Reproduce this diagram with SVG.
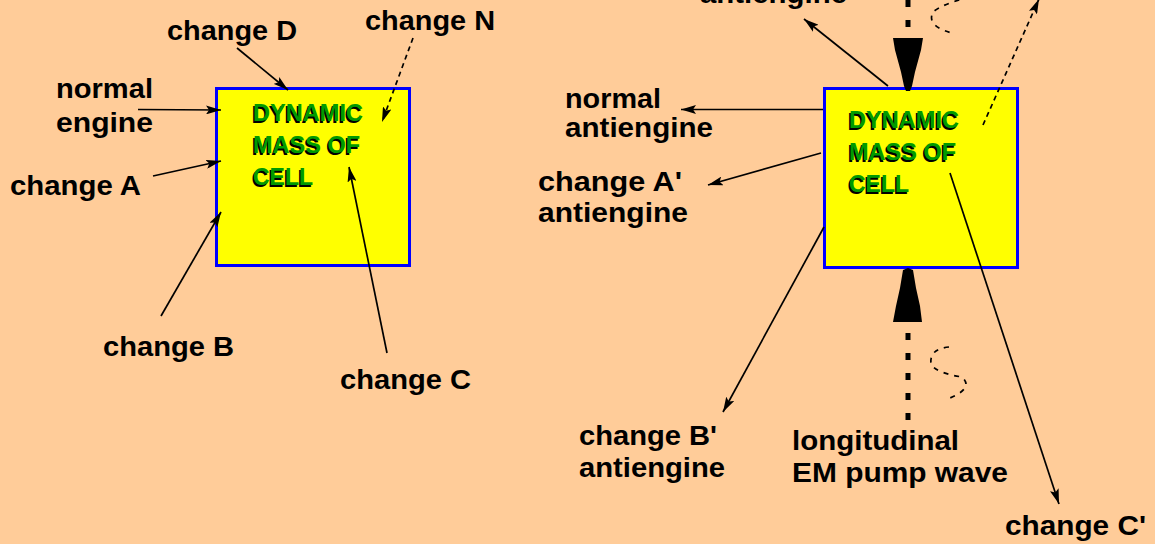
<svg xmlns="http://www.w3.org/2000/svg" width="1155" height="544" viewBox="0 0 1155 544">
<style>
.lbl{font-family:"Liberation Sans",Arial,sans-serif;font-weight:bold;font-size:28px;fill:#000}
.box{fill:#FFFF00;stroke:#0000FF;stroke-width:3}
.bt{font-family:"Liberation Sans",Arial,sans-serif;font-weight:bold;font-size:23px}
.sh{fill:#000}
.gr{fill:#009A00}
.ln{stroke:#000;stroke-width:1.7;fill:none}
.dl{stroke:#000;stroke-width:1.7;fill:none;stroke-dasharray:5 4}
.thick{stroke:#000;stroke-width:5;fill:none;stroke-dasharray:7 13}
.sq{stroke:#000;stroke-width:1.7;fill:none;stroke-dasharray:5 6}
</style>
<defs>
<marker id="ah" viewBox="0 0 15 9" refX="15" refY="4.5" markerWidth="15" markerHeight="9" markerUnits="userSpaceOnUse" orient="auto">
<path d="M0,0 L15,4.5 L0,9 L3,4.5 z" fill="#000"/>
</marker>
</defs>
<rect width="1155" height="544" fill="#FFCC99"/>

<g id="cell-left">
<rect class="box" x="216.5" y="88.5" width="193" height="177"/>
<g class="bt">
<text class="sh" x="251.5" y="122.5" textLength="110" lengthAdjust="spacingAndGlyphs">DYNAMIC</text>
<text class="gr" x="253" y="121" textLength="110" lengthAdjust="spacingAndGlyphs">DYNAMIC</text>
<text class="sh" x="251.5" y="154.5" textLength="107" lengthAdjust="spacingAndGlyphs">MASS OF</text>
<text class="gr" x="253" y="153" textLength="107" lengthAdjust="spacingAndGlyphs">MASS OF</text>
<text class="sh" x="251.5" y="186.5" textLength="60" lengthAdjust="spacingAndGlyphs">CELL</text>
<text class="gr" x="253" y="185" textLength="60" lengthAdjust="spacingAndGlyphs">CELL</text>
</g>
</g>

<g id="cell-right">
<rect class="box" x="824.5" y="88.5" width="193" height="179"/>
<g class="bt">
<text class="sh" x="847.5" y="129.5" textLength="110" lengthAdjust="spacingAndGlyphs">DYNAMIC</text>
<text class="gr" x="849" y="128" textLength="110" lengthAdjust="spacingAndGlyphs">DYNAMIC</text>
<text class="sh" x="847.5" y="161.5" textLength="107" lengthAdjust="spacingAndGlyphs">MASS OF</text>
<text class="gr" x="849" y="160" textLength="107" lengthAdjust="spacingAndGlyphs">MASS OF</text>
<text class="sh" x="847.5" y="193.5" textLength="60" lengthAdjust="spacingAndGlyphs">CELL</text>
<text class="gr" x="849" y="192" textLength="60" lengthAdjust="spacingAndGlyphs">CELL</text>
</g>
</g>

<g id="label-change-d"><text class="lbl" x="167" y="40" textLength="130" lengthAdjust="spacingAndGlyphs">change D</text></g>
<g id="label-change-n"><text class="lbl" x="365" y="30" textLength="130" lengthAdjust="spacingAndGlyphs">change N</text></g>
<g id="label-normal-engine"><text class="lbl" x="56" y="98" textLength="97" lengthAdjust="spacingAndGlyphs">normal</text><text class="lbl" x="56" y="132" textLength="97" lengthAdjust="spacingAndGlyphs">engine</text></g>
<g id="label-change-a"><text class="lbl" x="10" y="195" textLength="131" lengthAdjust="spacingAndGlyphs">change A</text></g>
<g id="label-change-b"><text class="lbl" x="103" y="356" textLength="131" lengthAdjust="spacingAndGlyphs">change B</text></g>
<g id="label-change-c"><text class="lbl" x="340" y="389" textLength="131" lengthAdjust="spacingAndGlyphs">change C</text></g>

<g id="label-antiengine-top"><text class="lbl" x="700" y="3" textLength="147" lengthAdjust="spacingAndGlyphs">antiengine</text></g>
<g id="label-normal-antiengine"><text class="lbl" x="565" y="108" textLength="96" lengthAdjust="spacingAndGlyphs">normal</text><text class="lbl" x="565" y="137" textLength="148" lengthAdjust="spacingAndGlyphs">antiengine</text></g>
<g id="label-change-a-prime"><text class="lbl" x="538" y="191" textLength="144" lengthAdjust="spacingAndGlyphs">change A'</text><text class="lbl" x="538" y="222" textLength="150" lengthAdjust="spacingAndGlyphs">antiengine</text></g>
<g id="label-change-b-prime"><text class="lbl" x="579" y="445" textLength="138" lengthAdjust="spacingAndGlyphs">change B'</text><text class="lbl" x="579" y="477" textLength="146" lengthAdjust="spacingAndGlyphs">antiengine</text></g>
<g id="label-pump-wave"><text class="lbl" x="792" y="450" textLength="167" lengthAdjust="spacingAndGlyphs">longitudinal</text><text class="lbl" x="792" y="482" textLength="216" lengthAdjust="spacingAndGlyphs">EM pump wave</text></g>
<g id="label-change-c-prime"><text class="lbl" x="1005" y="535" textLength="141" lengthAdjust="spacingAndGlyphs">change C'</text></g>

<g id="connectors">
<line class="ln" x1="138" y1="109.5" x2="221" y2="110" marker-end="url(#ah)"/>
<line class="ln" x1="237" y1="48" x2="288" y2="90" marker-end="url(#ah)"/>
<line class="dl" x1="413" y1="38" x2="382" y2="122" marker-end="url(#ah)"/>
<line class="ln" x1="153" y1="176" x2="221" y2="161" marker-end="url(#ah)"/>
<line class="ln" x1="161" y1="316" x2="221" y2="212" marker-end="url(#ah)"/>
<line class="ln" x1="387" y1="353" x2="349" y2="167" marker-end="url(#ah)"/>

<line class="ln" x1="888" y1="86" x2="804" y2="19" marker-end="url(#ah)"/>
<line class="ln" x1="823" y1="109.5" x2="681" y2="109.5" marker-end="url(#ah)"/>
<line class="ln" x1="821" y1="153" x2="708" y2="185" marker-end="url(#ah)"/>
<line class="ln" x1="824" y1="227" x2="723" y2="412" marker-end="url(#ah)"/>
<line class="ln" x1="950" y1="173" x2="1059" y2="504" marker-end="url(#ah)"/>
<line class="dl" x1="983" y1="125" x2="1039" y2="-1" marker-end="url(#ah)"/>

<line class="thick" x1="908" y1="0" x2="908" y2="32"/>
<polygon points="893,38 923,38 921,50 915,72 912,86 910,91 906,91 904,86 901,72 895,50" fill="#000"/>
<line class="thick" x1="908" y1="333" x2="908" y2="425"/>
<polygon points="908,268 913,270 916,288 920,306 922,322 893,322 896,306 900,288 903,270" fill="#000"/>

<path class="sq" d="M970,-3 Q942,4 933,12 Q926,26 952,33"/>
<path class="sq" d="M949,347 Q929,349 931,364 Q936,373 962,377 Q974,388 950,398"/>
</g>
</svg>
